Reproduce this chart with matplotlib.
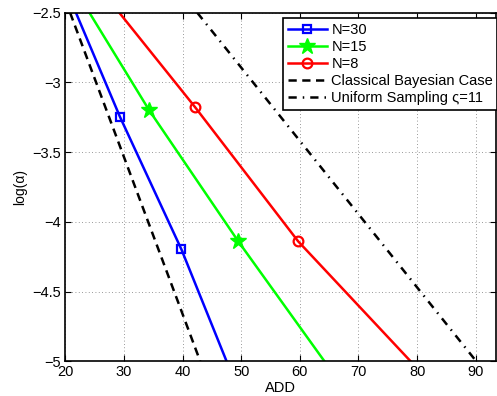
import numpy as np
import matplotlib
matplotlib.use('Agg')
from matplotlib import pyplot as plt

plt.rcParams['font.family'] = ['Liberation Sans', 'DejaVu Sans']
plt.rcParams['font.size'] = 10

# log(alpha) levels and the ADD read for each curve
logalpha_30 = [-2.5, -3.246, -4.198, -5.0]
add_30 = [21.8, 29.3, 39.8, 47.5]

logalpha_15 = [-2.5, -3.2, -4.14, -5.0]
add_15 = [24.1, 34.3, 49.5, 64.2]

logalpha_8 = [-2.5, -3.176, -4.139, -5.0]
add_8 = [29.2, 42.1, 59.7, 78.9]

logalpha_bayes = [-2.5, -5.0]
add_bayes = [20.8, 43.0]

logalpha_unif = [-2.5, -5.0]
add_unif = [42.5, 90.1]

xticks = [20, 30, 40, 50, 60, 70, 80, 90]
yticks = [-5, -4.5, -4, -3.5, -3, -2.5]
ytick_labels = ['\u22125', '\u22124.5', '\u22124', '\u22123.5', '\u22123', '\u22122.5']

fig = plt.figure(figsize=(4.97, 3.96), dpi=100)
ax = fig.add_axes([0.1316, 0.0876, 0.8668, 0.8803])

ax.plot(add_30, logalpha_30, color='blue', lw=1.8, marker='s', ms=6,
        mfc='none', mew=1.6, markevery=[1, 2], label='N=30')
ax.plot(add_15, logalpha_15, color='#00ff00', lw=1.8, marker='*', ms=12,
        markevery=[1, 2], label='N=15')
ax.plot(add_8, logalpha_8, color='red', lw=1.8, marker='o', ms=7,
        mfc='none', mew=1.6, markevery=[1, 2], label='N=8')
ax.plot(add_bayes, logalpha_bayes, color='black', lw=1.8, ls=(0, (3.3, 2.2)),
        label='Classical Bayesian Case')
ax.plot(add_unif, logalpha_unif, color='black', lw=1.8,
        ls=(0, (3.3, 2.4, 0.6, 2.4)), label='Uniform Sampling \u03c2=11')

ax.set_xlim(20, 93.5)
ax.set_ylim(-5, -2.5)
ax.set_xticks(xticks)
ax.set_yticks(yticks)
ax.set_yticklabels(ytick_labels)
ax.tick_params(direction='in', top=True, right=True, length=4, width=0.8,
               labelsize=10.5, pad=3)
ax.grid(True, ls=(0, (1, 3)), color='#777777', lw=0.6)
for s in ax.spines.values():
    s.set_linewidth(1.2)

ax.set_xlabel('ADD', fontsize=10.5, labelpad=1)
ax.set_ylabel('log(\u03b1)', fontsize=10, labelpad=4)

leg = ax.legend(loc='upper right', bbox_to_anchor=(1.003, 0.984),
                borderaxespad=0, fancybox=False, framealpha=1,
                edgecolor='black', handlelength=2.7, handletextpad=0.3,
                labelspacing=0.22, borderpad=0.3, fontsize=10.5)
leg.get_frame().set_linewidth(1.2)

plt.savefig('out.png', dpi=100)
